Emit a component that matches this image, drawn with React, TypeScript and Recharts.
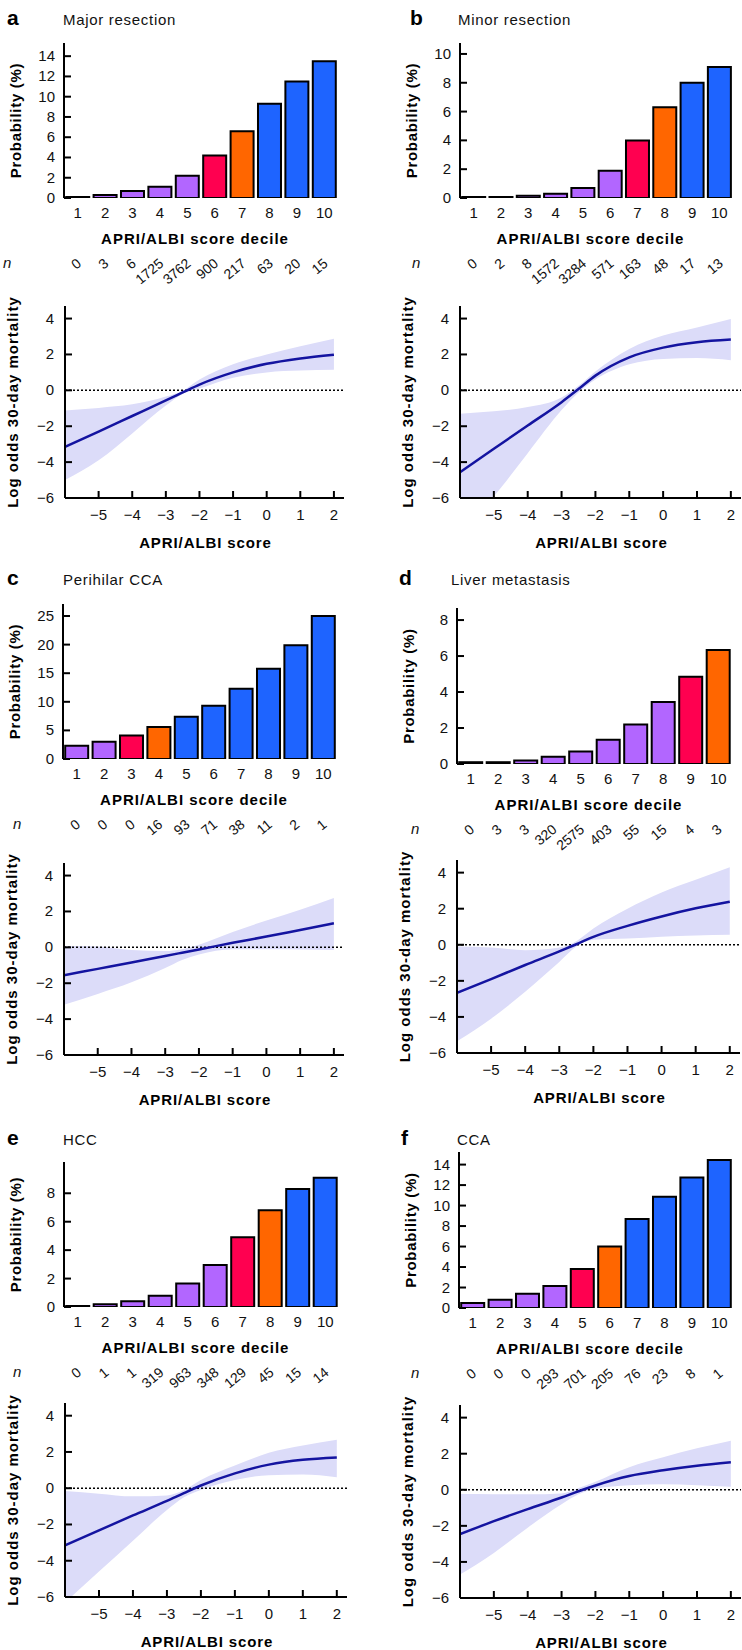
import { Area, Bar, BarChart, Cell, ComposedChart, Line, ReferenceLine, XAxis, YAxis } from "recharts"

const deciles = ["1", "2", "3", "4", "5", "6", "7", "8", "9", "10"]
const scoreX = [-6, -5, -4, -3, -2.5, -2, -1, 0, 1, 2]
const scoreTicks = [-5, -4, -3, -2, -1, 0, 1, 2]
const oddsTicks = [-6, -4, -2, 0, 2, 4]

// a: major resection
const majorProb = [0, 0.3, 0.7, 1.1, 2.2, 4.2, 6.6, 9.3, 11.5, 13.5]
const majorN = [0, 3, 6, 1725, 3762, 900, 217, 63, 20, 15]
const majorTier = [0, 0, 0, 0, 0, 1, 2, 3, 3, 3]
const majorFit = [-3.15, -2.3, -1.43, -0.56, -0.12, 0.32, 1.0, 1.48, 1.78, 1.99]
const majorLo = [-5.0, -3.9, -2.4, -0.85, -0.2, 0.1, 0.7, 1.0, 1.1, 1.15]
const majorHi = [-1.12, -0.98, -0.78, -0.35, -0.02, 0.6, 1.45, 2.0, 2.45, 2.88]

// b: minor resection
const minorProb = [0, 0, 0.15, 0.3, 0.7, 1.9, 4.0, 6.3, 8.0, 9.1]
const minorN = [0, 2, 8, 1572, 3284, 571, 163, 48, 17, 13]
const minorTier = [0, 0, 0, 0, 0, 0, 1, 2, 3, 3]
const minorFit = [-4.56, -3.26, -1.96, -0.66, 0.07, 0.82, 1.84, 2.38, 2.68, 2.83]
const minorLo = [-7.8, -5.9, -3.5, -1.1, -0.12, 0.6, 1.45, 1.75, 1.8, 1.68]
const minorHi = [-1.3, -1.17, -0.93, -0.4, 0.25, 1.05, 2.3, 3.05, 3.5, 3.97]

// c: perihilar CCA
const perihilarProb = [2.3, 3.0, 4.1, 5.6, 7.4, 9.3, 12.3, 15.8, 19.9, 25.0]
const perihilarN = [0, 0, 0, 16, 93, 71, 38, 11, 2, 1]
const perihilarTier = [0, 0, 1, 2, 3, 3, 3, 3, 3, 3]
const perihilarFit = [-1.55, -1.2, -0.85, -0.48, -0.3, -0.12, 0.25, 0.6, 0.97, 1.34]
const perihilarLo = [-3.2, -2.6, -1.95, -1.15, -0.7, -0.4, -0.1, -0.1, -0.12, -0.15]
const perihilarHi = [0.07, 0.05, -0.15, -0.2, -0.1, 0.15, 0.85, 1.5, 2.1, 2.75]

// d: liver metastasis
const metastasisProb = [0.1, 0.1, 0.2, 0.4, 0.7, 1.35, 2.2, 3.45, 4.85, 6.33]
const metastasisN = [0, 3, 3, 320, 2575, 403, 55, 15, 4, 3]
const metastasisTier = [0, 0, 0, 0, 0, 0, 0, 0, 1, 2]
const metastasisFit = [-2.66, -1.9, -1.12, -0.37, 0.03, 0.44, 1.05, 1.57, 2.02, 2.39]
const metastasisLo = [-5.35, -4.1, -2.6, -0.95, -0.1, 0.28, 0.35, 0.45, 0.52, 0.55]
const metastasisHi = [-0.1, -0.15, -0.3, -0.15, 0.2, 0.9, 2.0, 2.9, 3.6, 4.3]

// e: HCC
const hccProb = [0, 0.2, 0.4, 0.8, 1.65, 2.95, 4.9, 6.8, 8.3, 9.1]
const hccN = [0, 1, 1, 319, 963, 348, 129, 45, 15, 14]
const hccTier = [0, 0, 0, 0, 0, 0, 1, 2, 3, 3]
const hccFit = [-3.15, -2.33, -1.5, -0.7, -0.27, 0.15, 0.82, 1.3, 1.57, 1.7]
const hccLo = [-6.3, -4.6, -2.9, -1.2, -0.5, -0.1, 0.45, 0.72, 0.75, 0.6]
const hccHi = [-0.15, -0.3, -0.45, -0.4, -0.1, 0.45, 1.25, 1.95, 2.35, 2.67]

// f: CCA
const ccaProb = [0.5, 0.8, 1.4, 2.15, 3.8, 6.0, 8.7, 10.85, 12.75, 14.45]
const ccaN = [0, 0, 0, 293, 701, 205, 76, 23, 8, 1]
const ccaTier = [0, 0, 0, 0, 1, 2, 3, 3, 3, 3]
const ccaFit = [-2.46, -1.74, -1.07, -0.43, -0.08, 0.24, 0.76, 1.08, 1.33, 1.52]
const ccaLo = [-4.7, -3.5, -2.1, -0.8, -0.25, 0.05, 0.25, 0.3, 0.25, 0.17]
const ccaHi = [-0.24, -0.25, -0.25, -0.2, 0.1, 0.45, 1.25, 1.8, 2.3, 2.72]

const TIER_COLORS = ["#b266ff", "#ff0050", "#ff6600", "#1e64ff"]
const FONT = '"Liberation Sans", Arial, Helvetica, sans-serif'
const W = 371

type Frame = {
  left: number
  top: number
  letterX: number
  titleX: number
  nX: number
  plotLeft: number
  plotRight: number
  barTop: number
  barBottom: number
  lineLeft: number
  lineRight: number
  lineTop: number
  lineBottom: number
}

type Panel = {
  letter: string
  title: string
  prob: number[]
  n: number[]
  tier: number[]
  probTicks: number[]
  probMax: number
  fit: number[]
  lo: number[]
  hi: number[]
  frame: Frame
}

const panels: Panel[] = [
  {
    letter: "a", title: "Major resection", prob: majorProb, n: majorN, tier: majorTier,
    probTicks: [0, 2, 4, 6, 8, 10, 12, 14], probMax: 15.3, fit: majorFit, lo: majorLo, hi: majorHi,
    frame: { left: 0, top: 0, letterX: 7, titleX: 63, nX: 3, plotLeft: 64, plotRight: 338, barTop: 43, barBottom: 198, lineLeft: 65, lineRight: 344, lineTop: 306, lineBottom: 498 },
  },
  {
    letter: "b", title: "Minor resection", prob: minorProb, n: minorN, tier: minorTier,
    probTicks: [0, 2, 4, 6, 8, 10], probMax: 10.76, fit: minorFit, lo: minorLo, hi: minorHi,
    frame: { left: 371, top: 0, letterX: 39, titleX: 87, nX: 41, plotLeft: 89, plotRight: 362, barTop: 43, barBottom: 198, lineLeft: 89, lineRight: 370, lineTop: 306, lineBottom: 498 },
  },
  {
    letter: "c", title: "Perihilar CCA", prob: perihilarProb, n: perihilarN, tier: perihilarTier,
    probTicks: [0, 5, 10, 15, 20, 25], probMax: 27.1, fit: perihilarFit, lo: perihilarLo, hi: perihilarHi,
    frame: { left: 0, top: 560, letterX: 7, titleX: 63, nX: 13, plotLeft: 63, plotRight: 337, barTop: 44, barBottom: 199, lineLeft: 64, lineRight: 344, lineTop: 303, lineBottom: 495 },
  },
  {
    letter: "d", title: "Liver metastasis", prob: metastasisProb, n: metastasisN, tier: metastasisTier,
    probTicks: [0, 2, 4, 6, 8], probMax: 8.67, fit: metastasisFit, lo: metastasisLo, hi: metastasisHi,
    frame: { left: 371, top: 560, letterX: 28, titleX: 80, nX: 40, plotLeft: 86, plotRight: 361, barTop: 48, barBottom: 204, lineLeft: 86, lineRight: 369, lineTop: 300, lineBottom: 493 },
  },
  {
    letter: "e", title: "HCC", prob: hccProb, n: hccN, tier: hccTier,
    probTicks: [0, 2, 4, 6, 8], probMax: 10.2, fit: hccFit, lo: hccLo, hi: hccHi,
    frame: { left: 0, top: 1120, letterX: 7, titleX: 63, nX: 13, plotLeft: 64, plotRight: 339, barTop: 42, barBottom: 187, lineLeft: 65, lineRight: 347, lineTop: 283, lineBottom: 477 },
  },
  {
    letter: "f", title: "CCA", prob: ccaProb, n: ccaN, tier: ccaTier,
    probTicks: [0, 2, 4, 6, 8, 10, 12, 14], probMax: 15.23, fit: ccaFit, lo: ccaLo, hi: ccaHi,
    frame: { left: 371, top: 1120, letterX: 30, titleX: 86, nX: 40, plotLeft: 88, plotRight: 362, barTop: 32, barBottom: 188, lineLeft: 89, lineRight: 370, lineTop: 285, lineBottom: 478 },
  },
]

const fmt = (v: number) => (v < 0 ? `\u2212${Math.abs(v)}` : String(v))

function leftTick(gap: number) {
  return (props: any) => {
    const { x, y, payload } = props
    return (
      <g>
        <line x1={x} x2={x + 7} y1={y} y2={y} stroke="#000" strokeWidth={2} />
        <text x={x - gap} y={y + 5} textAnchor="end" fontSize={15} fontFamily={FONT} fill="#111">
          {fmt(payload.value)}
        </text>
      </g>
    )
  }
}

function decileTick(n: number[]) {
  return (props: any) => {
    const { x, y, payload, index } = props
    const ax = x + 4.5
    const ay = y + 67
    return (
      <g>
        <text x={x} y={y + 20} textAnchor="middle" fontSize={15} fontFamily={FONT} fill="#111">
          {payload.value}
        </text>
        <text x={ax} y={ay} textAnchor="end" fontSize={14} fontFamily={FONT} fill="#111" transform={`rotate(-40 ${ax} ${ay})`}>
          {n[index]}
        </text>
      </g>
    )
  }
}

const scoreTick = (props: any) => {
  const { x, y, payload } = props
  return (
    <g>
      <line x1={x} x2={x} y1={y} y2={y - 7} stroke="#000" strokeWidth={2} />
      <text x={x} y={y + 22} textAnchor="middle" fontSize={15} fontFamily={FONT} fill="#111">
        {fmt(payload.value)}
      </text>
    </g>
  )
}

function DecileBars({ p }: { p: Panel }) {
  const f = p.frame
  const rows = deciles.map((d, i) => ({ decile: d, prob: p.prob[i], tier: p.tier[i] }))
  return (
    <div style={{ position: "absolute", left: f.left, top: f.top }}>
      <BarChart
        width={W}
        height={f.barBottom + 105}
        data={rows}
        margin={{ top: f.barTop, right: W - f.plotRight, bottom: 5, left: 0 }}
        barCategoryGap="8%"
      >
        <XAxis dataKey="decile" axisLine={false} tickLine={false} tickSize={0} tickMargin={0} height={100} interval={0} tick={decileTick(p.n)} />
        <YAxis
          width={f.plotLeft}
          type="number"
          domain={[0, p.probMax]}
          ticks={p.probTicks}
          allowDataOverflow
          axisLine={{ stroke: "#000", strokeWidth: 2 }}
          tickLine={false}
          tickSize={0}
          tickMargin={0}
          interval={0}
          tick={leftTick(9)}
        />
        <Bar dataKey="prob" stroke="#000" strokeWidth={2} minPointSize={1} isAnimationActive={false}>
          {rows.map((r, i) => (
            <Cell key={i} fill={TIER_COLORS[r.tier]} />
          ))}
        </Bar>
      </BarChart>
    </div>
  )
}

function OddsCurve({ p }: { p: Panel }) {
  const f = p.frame
  const rows = scoreX.map((x, i) => ({ x, fit: p.fit[i], band: [p.lo[i], p.hi[i]] }))
  return (
    <div style={{ position: "absolute", left: f.left, top: f.top }}>
      <ComposedChart
        width={W}
        height={f.lineBottom + 60}
        data={rows}
        margin={{ top: f.lineTop, right: W - f.lineRight, bottom: 5, left: 0 }}
      >
        <XAxis
          dataKey="x"
          type="number"
          domain={[-6, 2.3]}
          ticks={scoreTicks}
          allowDataOverflow
          height={55}
          interval={0}
          axisLine={{ stroke: "#000", strokeWidth: 2 }}
          tickLine={false}
          tickSize={0}
          tickMargin={0}
          tick={scoreTick}
        />
        <YAxis
          width={f.lineLeft}
          type="number"
          domain={[-6, 4.7]}
          ticks={oddsTicks}
          allowDataOverflow
          interval={0}
          axisLine={{ stroke: "#000", strokeWidth: 2 }}
          tickLine={false}
          tickSize={0}
          tickMargin={0}
          tick={leftTick(11)}
        />
        <Area dataKey="band" type="monotone" stroke="none" fill="#dcdcf9" fillOpacity={1} isAnimationActive={false} />
        <ReferenceLine y={0} stroke="#000" strokeWidth={1.5} strokeDasharray="2 2" />
        <Line dataKey="fit" type="monotone" stroke="#1414a0" strokeWidth={2.5} dot={false} activeDot={false} isAnimationActive={false} />
      </ComposedChart>
    </div>
  )
}

function PanelText({ p }: { p: Panel }) {
  const f = p.frame
  const barMidY = (f.barTop + f.barBottom) / 2
  const lineMidY = (f.lineTop + f.lineBottom) / 2
  const probX = f.plotLeft - 48 + 5
  const oddsX = f.lineLeft - 52 + 5
  return (
    <svg
      width={W}
      height={560}
      style={{ position: "absolute", left: f.left, top: f.top, pointerEvents: "none", fontFamily: FONT }}
    >
      <text x={f.letterX} y={25} fontSize={21} fontWeight="bold" fill="#000">{p.letter}</text>
      <text x={f.titleX} y={25} fontSize={15} letterSpacing={0.7} fill="#111">{p.title}</text>
      <text x={probX} y={barMidY} transform={`rotate(-90 ${probX} ${barMidY})`} textAnchor="middle" fontSize={15} fontWeight="bold" letterSpacing={0.7} fill="#000">
        Probability (%)
      </text>
      <text x={(f.plotLeft + f.plotRight) / 2 - 6} y={f.barBottom + 46} textAnchor="middle" fontSize={15} fontWeight="bold" letterSpacing={1} fill="#000">
        APRI/ALBI score decile
      </text>
      <text x={f.nX} y={f.barBottom + 70} fontSize={15} fontStyle="italic" fill="#111">n</text>
      <text x={oddsX} y={lineMidY} transform={`rotate(-90 ${oddsX} ${lineMidY})`} textAnchor="middle" fontSize={15} fontWeight="bold" letterSpacing={1} fill="#000">
        Log odds 30-day mortality
      </text>
      <text x={(f.lineLeft + f.lineRight) / 2 + 1} y={f.lineBottom + 50} textAnchor="middle" fontSize={15} fontWeight="bold" letterSpacing={0.9} fill="#000">
        APRI/ALBI score
      </text>
    </svg>
  )
}

export default function App() {
  return (
    <div style={{ position: "relative", width: 742, height: 1650, background: "#fff", fontFamily: FONT }}>
      <style>{"body{margin:0}"}</style>
      {panels.map((p) => (
        <div key={p.letter}>
          <DecileBars p={p} />
          <OddsCurve p={p} />
          <PanelText p={p} />
        </div>
      ))}
    </div>
  )
}
